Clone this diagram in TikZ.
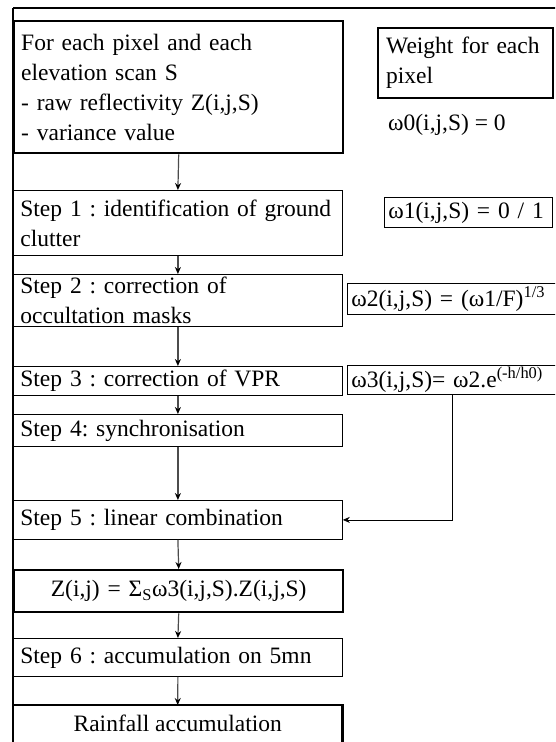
\documentclass[tikz,border=0pt]{standalone}
\usepackage{fontspec}
\setmainfont{Liberation Serif}
\usetikzlibrary{arrows.meta}
\frenchspacing

\tikzset{
	box/.style={draw, line width=0.8pt, anchor=north west, inner xsep=7pt, inner ysep=0pt, align=left},
	thickbox/.style={box, line width=2.4pt},
	wbox/.style={box, inner xsep=4pt},
	flow/.style={draw=black!70, line width=1.2pt, -{Stealth[length=7pt,width=6pt,black]}}
}

\begin{document}
\begin{tikzpicture}[x=1pt, y=-1pt, font=\fontsize{23.5}{30}\selectfont]
	\clip (0,0) rectangle (555,742);
	
	%frame
	\draw[line width=1.5pt] (13,8)--(556,8);
	\draw[line width=2.4pt] (13,8)--(13,742);
	
	%steps
	\node[thickbox, minimum width=329, minimum height=132, text width=315] (input) at (13,20) {For each pixel and each\\elevation scan S\\- raw reflectivity Z(i,j,S)\\- variance value};
	\node[box, minimum width=329, minimum height=65, text width=315] (step1) at (13,190) {\mbox{Step 1 : identification of ground}\\clutter};
	\node[box, minimum width=329, minimum height=52, text width=315] (step2) at (13,274) {Step 2 : correction of\\occultation masks};
	\node[box, minimum width=329, minimum height=29, text width=315] (step3) at (13,366) {Step 3 : correction of VPR};
	\node[box, minimum width=329, minimum height=32, text width=315] (step4) at (13,414) {Step 4: synchronisation};
	\node[box, minimum width=329, minimum height=39, text width=315] (step5) at (13,500) {Step 5 : linear combination};
	\node[thickbox, minimum width=329, minimum height=42, text width=315, align=center] (zsum) at (13,569) {Z(i,j) = Σ\textsubscript{S}ω3(i,j,S).Z(i,j,S)};
	\node[box, minimum width=329, minimum height=38, text width=315] (step6) at (13,638) {Step 6 : accumulation on 5mn};
	\node[anchor=north west, minimum width=329, minimum height=36, inner sep=0pt] (rain) at (13,705) {Rainfall accumulation};
	\draw[line width=2.4pt] ([yshift=-20pt]rain.south west) |- (rain.north) -| ([yshift=-20pt]rain.south east);
	
	%weights
	\node[thickbox, minimum width=175, minimum height=70, text width=159] (weight) at (377,27) {Weight for each\\pixel};
	\node[anchor=west, inner sep=0pt] (w0) at (388,125) {ω0(i,j,S) = 0};
	\node[wbox, minimum width=168, minimum height=30, text width=160] (w1) at (384,197) {ω1(i,j,S) = 0 / 1};
	\node[wbox, minimum width=210, minimum height=31, text width=202] (w2) at (347,283) {\mbox{ω2(i,j,S) = (ω1/F)\textsuperscript{1/3}}};
	\node[wbox, minimum width=210, minimum height=29, text width=202] (w3) at (347,365) {\mbox{ω3(i,j,S)= ω2.e\textsuperscript{(-h/h0)}}};
	
	%arrows
	\draw[flow] (input.south)--(step1.north);
	\draw[flow] (step1.south)--(step2.north);
	\draw[flow] (step2.south)--(step3.north);
	\draw[flow] (step3.south)--(step4.north);
	\draw[flow] (step4.south)--(step5.north);
	\draw[flow] (step5.south)--(zsum.north);
	\draw[flow] (zsum.south)--(step6.north);
	\draw[flow] (step6.south)--(rain.north);
	\draw[flow, draw=black, line width=0.8pt] (w3.south) |- (step5.east);
\end{tikzpicture}
\end{document}
